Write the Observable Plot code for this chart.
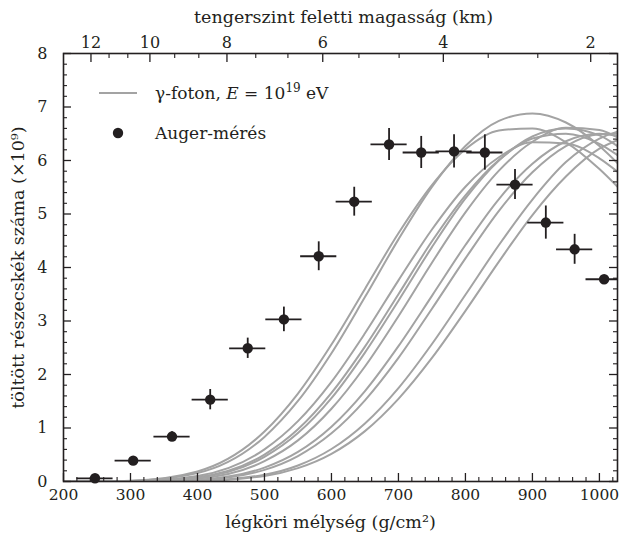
<!DOCTYPE html>
<html><head><meta charset="utf-8">
<script src="https://cdn.jsdelivr.net/npm/d3@7"></script>
<script src="https://cdn.jsdelivr.net/npm/@observablehq/plot@0.6"></script>
<style>
body{margin:0;background:#fff;}
#chart svg{display:block;}
</style>
</head><body><div id="chart"></div>
<script>
// ---- data ----
// simulated photon-shower profiles, sampled at these atmospheric depths (g/cm2)
const depthGrid = [200, 300, 400, 500, 550, 600, 650, 700, 750, 800, 850, 900, 950, 1000, 1027];
const photon1  = [0.00, 0.011, 0.158, 0.834, 1.505, 2.398, 3.447, 4.526, 5.507, 6.272, 6.740, 6.880, 6.710, 6.270, 5.950];
const photon2  = [0.00, 0.015, 0.188, 0.934, 1.644, 2.560, 3.600, 4.640, 5.540, 6.210, 6.560, 6.600, 6.340, 5.840, 5.510];
const photon3  = [0.00, 0.007, 0.104, 0.601, 1.128, 1.863, 2.770, 3.760, 4.710, 5.510, 6.060, 6.340, 6.320, 6.040, 5.790];
const photon4  = [0.00, 0.005, 0.081, 0.504, 0.975, 1.655, 2.520, 3.500, 4.490, 5.350, 6.010, 6.410, 6.500, 6.310, 6.100];
const photon5  = [0.00, 0.004, 0.071, 0.460, 0.905, 1.558, 2.410, 3.380, 4.380, 5.290, 6.000, 6.450, 6.600, 6.470, 6.270];
const photon6  = [0.00, 0.003, 0.055, 0.380, 0.768, 1.360, 2.150, 3.090, 4.090, 5.030, 5.810, 6.350, 6.610, 6.570, 6.430];
const photon7  = [0.00, 0.002, 0.033, 0.260, 0.553, 1.024, 1.690, 2.530, 3.470, 4.420, 5.280, 5.940, 6.360, 6.500, 6.460];
const photon8  = [0.00, 0.001, 0.027, 0.218, 0.476, 0.900, 1.517, 2.310, 3.230, 4.170, 5.060, 5.780, 6.270, 6.490, 6.500];
const photon9  = [0.00, 0.000, 0.013, 0.128, 0.300, 0.607, 1.085, 1.746, 2.570, 3.490, 4.420, 5.270, 5.970, 6.410, 6.540];
const photon10 = [0.00, 0.000, 0.010, 0.104, 0.250, 0.517, 0.942, 1.545, 2.310, 3.190, 4.110, 4.980, 5.700, 6.220, 6.380];

// Auger measurement
const obsDepth    = [247, 304, 362, 419, 475, 529, 581, 634, 686, 734, 783, 829, 874, 920, 963, 1007];
const obsN        = [0.06, 0.39, 0.84, 1.53, 2.49, 3.03, 4.21, 5.23, 6.30, 6.15, 6.17, 6.15, 5.55, 4.84, 4.34, 3.78];
const obsErrN     = [0.02, 0.03, 0.09, 0.19, 0.19, 0.23, 0.27, 0.27, 0.30, 0.30, 0.31, 0.33, 0.28, 0.31, 0.28, 0.05];
const obsErrDepth = [27, 27, 27, 27, 27, 27, 27, 27, 27, 27, 27, 27, 27, 27, 27, 27];

// axes
const xMajor = [200, 300, 400, 500, 600, 700, 800, 900, 1000];
const yMajor = [0, 1, 2, 3, 4, 5, 6, 7, 8];
const altLabels = ["12", "10", "8", "6", "4", "2"];
const altDepth  = [241, 329, 444, 587, 767, 987];
const altMinorDepth = [268, 296, 366, 402, 487, 535, 641, 701, 834, 908];

const xTitle = "légköri mélység (g/cm²)";
const yTitle = "töltött részecskék száma (×10⁹)";
const topTitle = "tengerszint feletti magasság (km)";
const legendLine = ["γ-foton, ", "E", " = 10", "19", " eV"];
const legendDot = "Auger-mérés";

// ---- build ----
const W = 619, H = 537;
const M = {top: 53, right: 2, bottom: 56, left: 63};
const plotW = W - M.left - M.right, plotH = H - M.top - M.bottom;
const ink = "#231f20", grey = "#a3a3a3";
const font = "'DejaVu Serif', serif";

const curves = [photon1, photon2, photon3, photon4, photon5, photon6, photon7, photon8, photon9, photon10];
const curveRows = curves.flatMap((arr, ci) => arr.map((n, i) => ({sim: ci, depth: depthGrid[i], n})));
const obs = obsDepth.map((d, i) => ({depth: d, n: obsN[i], en: obsErrN[i], ed: obsErrDepth[i]}));
const xMinor = d3.range(220, 1027, 20).filter(v => v % 100 !== 0);
const yMinor = d3.range(1, 40).map(v => v / 5).filter(v => Math.abs(v - Math.round(v)) > 1e-9);
const altMap = new Map(altDepth.map((d, i) => [d, altLabels[i]]));

const chart = Plot.plot({
  width: W, height: H,
  marginTop: M.top, marginRight: M.right, marginBottom: M.bottom, marginLeft: M.left,
  x: {domain: [200, 1027], axis: null},
  y: {domain: [0, 8], axis: null},
  style: {fontFamily: font, fontSize: "16px", color: ink, background: "#fff"},
  marks: [
    Plot.line(curveRows, {x: "depth", y: "n", z: "sim", stroke: grey, strokeWidth: 2, curve: "monotone-x", clip: true}),
    Plot.ruleY(obs, {y: "n", x1: d => d.depth - d.ed, x2: d => d.depth + d.ed, stroke: ink, strokeWidth: 1.8, clip: true}),
    Plot.ruleX(obs, {x: "depth", y1: d => d.n - d.en, y2: d => d.n + d.en, stroke: ink, strokeWidth: 1.8, clip: true}),
    Plot.dot(obs, {x: "depth", y: "n", r: 5.2, fill: ink, stroke: "none"}),
    // inward ticks
    Plot.tickX(xMajor, {x: d => d, insetTop: plotH - 8, stroke: ink, strokeWidth: 1.3}),
    Plot.tickX(xMinor, {x: d => d, insetTop: plotH - 4, stroke: ink, strokeWidth: 1.1}),
    Plot.tickX(altDepth, {x: d => d, insetBottom: plotH - 9, stroke: ink, strokeWidth: 1.3}),
    Plot.tickX(altMinorDepth, {x: d => d, insetBottom: plotH - 5, stroke: ink, strokeWidth: 1.1}),
    Plot.tickY(yMajor, {y: d => d, insetRight: plotW - 8, stroke: ink, strokeWidth: 1.3}),
    Plot.tickY(yMinor, {y: d => d, insetRight: plotW - 4, stroke: ink, strokeWidth: 1.1}),
    Plot.tickY(yMajor, {y: d => d, insetLeft: plotW - 8, stroke: ink, strokeWidth: 1.3}),
    Plot.tickY(yMinor, {y: d => d, insetLeft: plotW - 4, stroke: ink, strokeWidth: 1.1}),
    Plot.frame({stroke: ink, strokeWidth: 1.6}),
    // tick labels
    Plot.axisX(xMajor, {anchor: "bottom", tickSize: 0, tickPadding: 7, label: null, fontSize: 15.5, tickFormat: d => String(d)}),
    Plot.axisX(altDepth, {anchor: "top", tickSize: 0, tickPadding: 6, label: null, fontSize: 16, tickFormat: d => altMap.get(d)}),
    Plot.axisY(yMajor, {anchor: "left", tickSize: 0, tickPadding: 16, label: null, fontSize: 16, tickFormat: d => String(d)}),
    // titles
    Plot.text([xTitle], {frameAnchor: "bottom", dx: -10, dy: 41, text: d => d, fontSize: 17.5, fill: ink, textAnchor: "middle", lineAnchor: "middle"}),
    Plot.text([topTitle], {frameAnchor: "top", dx: 3, dy: -36, text: d => d, fontSize: 17.5, fill: ink, textAnchor: "middle", lineAnchor: "middle"}),
    Plot.text([yTitle], {frameAnchor: "left", dx: -45, rotate: -90, text: d => d, fontSize: 17.5, fill: ink, textAnchor: "middle", lineAnchor: "middle"})
  ]
});

// legend (inside the plot, top-left)
const svg = d3.select(chart);
const lg = svg.append("g").attr("font-family", font).attr("font-size", 17).attr("fill", ink).attr("text-anchor", "start");
lg.append("line").attr("x1", 99).attr("x2", 137).attr("y1", 93).attr("y2", 93)
  .attr("stroke", grey).attr("stroke-width", 2);
const t1 = lg.append("text").attr("x", 155).attr("y", 99);
t1.append("tspan").text(legendLine[0]);
t1.append("tspan").attr("font-style", "italic").text(legendLine[1]);
t1.append("tspan").text(legendLine[2]);
t1.append("tspan").attr("dy", -7).attr("font-size", 12).text(legendLine[3]);
t1.append("tspan").attr("dy", 7).text(legendLine[4]);
lg.append("circle").attr("cx", 118).attr("cy", 133).attr("r", 5.2).attr("fill", ink);
lg.append("text").attr("x", 155).attr("y", 139).text(legendDot);

document.getElementById("chart").appendChild(chart);
</script>
</body></html>
